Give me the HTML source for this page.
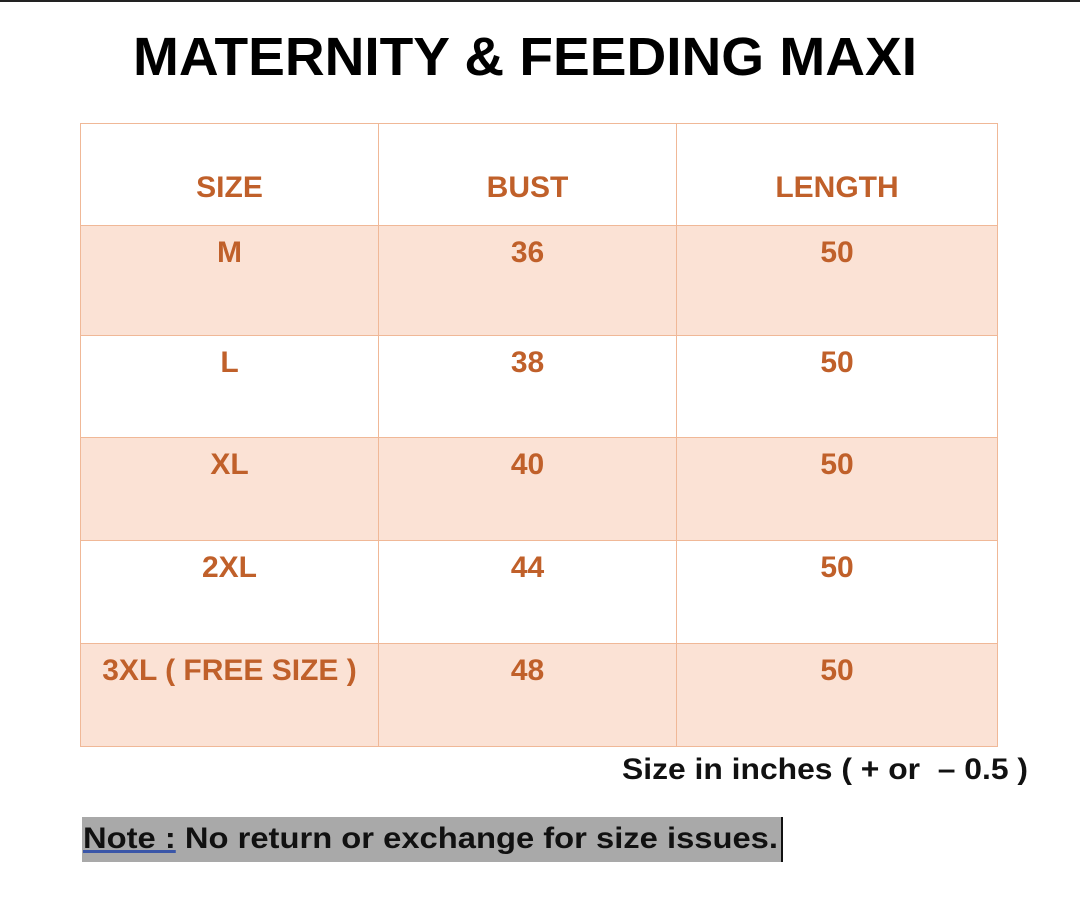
<!DOCTYPE html>
<html><head><meta charset="utf-8"><style>
body{margin:0;width:1080px;height:910px;background:#fff;position:relative;overflow:hidden;font-family:"Liberation Sans",sans-serif}
.top{position:absolute;left:0;top:0;width:1080px;height:2px;background:#222}
.title{position:absolute;left:133px;top:26px;font-weight:bold;font-size:54px;color:#000;white-space:nowrap;transform-origin:0 0}
.cell{position:absolute;display:flex;justify-content:center;color:#c0602a;font-weight:bold;font-size:30px;border-right:1px solid #f0b897;border-bottom:1px solid #f0b897;box-sizing:border-box}
.hdr{align-items:flex-start;padding-top:48px}
.row{align-items:flex-start;padding-top:10px}
.sh{background:#fbe2d5}
.foot{position:absolute;white-space:nowrap;font-size:30px;font-weight:bold;color:#111;transform-origin:0 0}
</style></head><body>
<div class="top"></div>
<div class="title" id="t">MATERNITY &amp; FEEDING MAXI</div>
<div style="position:absolute;left:80px;top:123px;width:918px;height:624px;border-left:1px solid #f0b897;border-top:1px solid #f0b897;box-sizing:border-box"></div>
<div id="tbl"></div>
<div class="foot" id="f1" style="left:622px;top:753px">Size in inches ( + or &nbsp;– 0.5 )</div>
<div style="position:absolute;left:82px;top:817px;width:699px;height:45px;background:#a9a9a9;border-right:2px solid #111"></div>
<div class="foot" id="f2" style="left:83px;top:822px"><span style="text-decoration:underline;text-decoration-color:#3a56a8">Note :</span> No return or exchange for size issues.</div>
<script>
var cols=[80,379,677,998];
var rows=[[123,226],[226,336],[336,438],[438,541],[541,644],[644,747]];
var data=[["SIZE","BUST","LENGTH"],["M","36","50"],["L","38","50"],["XL","40","50"],["2XL","44","50"],["3XL ( FREE SIZE )","48","50"]];
var h="";
for(var r=0;r<6;r++)for(var c=0;c<3;c++){
var cls="cell "+(r==0?"hdr":"row")+((r%2==1)?" sh":"");
var cl=cols[c]+(c==0?1:0);
h+='<div class="'+cls+'" style="left:'+cl+'px;top:'+rows[r][0]+'px;width:'+(cols[c+1]-cl)+'px;height:'+(rows[r][1]-rows[r][0])+'px">'+data[r][c]+'</div>';}
document.getElementById("tbl").innerHTML=h;
function fit(id,w){var e=document.getElementById(id);var x=e.getBoundingClientRect().width;e.style.transform="scaleX("+(w/x)+")";}
fit("t",784);fit("f1",406);fit("f2",695);
</script>
</body></html>
